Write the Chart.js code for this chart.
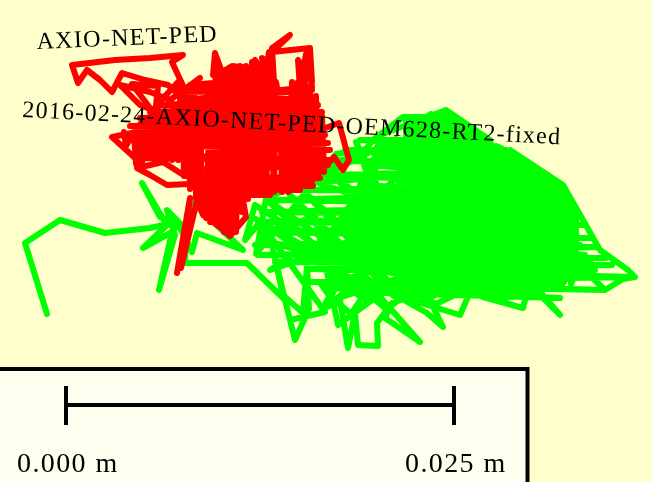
<!DOCTYPE html>
<html>
<head>
<meta charset="utf-8">
<title>AXIO-NET-PED</title>
<script src="https://cdn.jsdelivr.net/npm/chart.js@4/dist/chart.umd.min.js"></script>
<style>
html, body { margin: 0; padding: 0; background: #ffffcc; overflow: hidden; }
canvas { display: block; }
</style>
</head>
<body>
<canvas id="track-chart" width="652" height="482"></canvas>
<script>
// east / north offsets, 388 units = the 0.025 m scale bar, origin at bar start
var redTrack = [
    [111,131],[124,206],[115,136],[131,204],[137,189],[154,177],[164,168],[180,187],[177,204],[144,182],
    [134,209],[204,209],[129,216],[234,214],[124,222],[247,218],[119,228],[254,226],[101,219],[84,229],
    [71,236],[97,242],[119,228],[124,234],[262,239],[99,249],[264,244],[69,246],[46,267],[81,274],
    [264,254],[84,259],[262,261],[64,264],[259,269],[69,274],[259,276],[64,278],[254,284],[74,286],
    [256,292],[84,292],[252,299],[92,299],[250,306],[114,304],[246,314],[117,312],[206,316],[124,319],
    [204,326],[147,329],[149,351],[156,332],[166,338],[202,334],[187,342],[189,344],[206,319],[196,346],
    [200,330],[203,352],[208,322],[206,356],[209,358],[224,369],[206,352],
    [244,356],[246,322],[232,344],[234,316],[240,350],[238,318],[244,340],[246,316],[234,316],
    [119,304],[102,319],[79,324],[56,331],[46,312],[34,324],
    [21,334],[12,321],[6,339],[49,344],[84,346],[117,349],[106,342],[119,314],[134,326],[104,304],
    [84,312],[54,319],[74,299],[99,289],[84,296],[66,320],[92,318],[90,298],[112,322],[118,300],[99,289],
    [254,274],[273,281],[283,244],[277,234],[268,247],[258,236],
    [258,232],[256,288],[252,226],[250,308],[246,222],[244,318],[240,218],[238,340],[234,216],[232,322],
    [228,214],[226,322],[222,212],[220,300],[216,212],[214,300],[210,322],[208,212],[204,330],[200,210],
    [198,345],[194,209],[192,340],[188,209],[186,342],[182,205],[180,338],[176,192],[174,338],[170,172],
    [168,336],[164,170],[162,334],[158,172],[156,330],[152,178],[150,345],[146,182],[144,300],[140,186],
    [136,198],[134,300],[130,206],[128,320],[124,215],[122,316],[118,228],[116,308],[112,244],[110,296],
    [106,244],[104,288],[100,244],[98,288],[94,244],[92,294],[88,246],[86,290],[82,246],[80,284],
    [76,240],[74,280],[70,240],[68,272],[60,258],[58,272]
];
var greenTrack = [
    [-19,90],[-41,161],[-6,184],[39,171],[84,176],[102,180],[77,156],[106,172],[93,114],[109,169],
    [101,194],[116,179],[94,187],[76,221],[99,182],[114,176],[126,152],[131,171],[177,154],[124,204],
    [121,180],[119,141],[181,141],[219,104],[229,64],[243,95],[241,139],[237,91],[217,109],[207,154],[224,84],[259,92],
    [194,182],[179,164],[189,199],[334,104],[224,209],[354,62],[319,86],[326,101],[311,81],[312,58],
    [292,59],[289,91],[282,56],[274,104],[256,94],[294,164],[204,134],[234,154],[299,104],[374,154],
    [272,79],[249,189],[194,164],[354,124],[377,77],[361,91],[329,109],[394,89],[407,119],[284,144],
    [314,269],[380,294],[424,264],[294,264],[439,254],[279,254],[459,239],[264,244],[474,234],[254,229],
    [494,219],[234,214],[501,212],[209,204],[506,199],[196,192],[512,189],[192,182],[517,179],[194,172],
    [524,166],[189,159],[532,157],[192,149],[540,146],[209,142],[546,139],[245,135],[569,127],[245,122],
    [539,114],[264,119],[494,106],[284,112],[471,112],[494,89],[464,124],[457,96],[417,107],[454,134],
    [314,259],[444,249],[309,249],[464,234],[304,239],[482,224],[299,229],[489,209],[294,219],[494,199],
    [289,209],[499,189],[284,199],[504,179],[279,189],[509,169],[284,179],[514,159],[294,169],[519,149],
    [304,159],[524,142],[314,149],[529,134],[334,139],[494,124],[354,129],[464,119],[374,119],[407,116],
    [444,254],[497,219],[513,191],[534,154],[562,134],[569,127],[557,125],[539,114],[360,287],[337,287],[307,264],
    [300,255],[270,250],[190,150],[200,205],[300,255],[230,215],[330,265],[250,150],[345,240],[265,108],
    [300,225],[250,222],[340,190],[260,115],[340,118],[290,262],[350,140],[262,240],[340,120],[235,215],
    [330,115],[200,205],[300,110],[190,185],[270,140],[320,210],[300,150],[345,175],[280,120],[310,115],
    [325,160],[340,105],[340,118],[340,286],[345,287],[345,118],[350,120],[350,287],[355,287],[355,122],
    [360,125],[360,287],[365,290],[365,122],[370,118],[370,290],[375,292],[375,120],[380,122],[380,294],
    [385,288],[385,124],[390,122],[390,285],[395,280],[395,120],[400,122],[400,275],[405,270],[405,118],
    [410,120],[410,268],[415,266],[415,118],[420,122],[420,264],[425,260],[425,120],[430,118],[430,258],
    [435,256],[435,116],[440,118],[440,254],[445,250],[445,116],[450,118],[450,247],[455,243],[455,120],
    [460,118],[460,240],[465,238],[465,118],[470,116],[470,235],[475,232],[475,118],[480,116],[480,228],
    [485,225],[485,118],[490,120],[490,222],[495,219],[495,118],[500,125],[500,210],[505,200],[505,120],
    [510,130],[510,192],[470,120],[430,108],[395,112],[370,100],[345,112],[320,95],[300,112],[285,90],
    [262,110],[255,120],[300,130],[270,105],[330,125],[352,100],[405,128],[440,105]
];
var scaleBarEast = [0, 0, 0, 388, 388, 388];
var scaleBarNorth = [18, -21, -1, -1, 18, -21];
var seriesNames = ["AXIO-NET-PED", "2016-02-24-AXIO-NET-PED-OEM628-RT2-fixed"];
var scaleLabels = ["0.000 m", "0.025 m"];

function toPoints(list) {
    return list.map(function(p) { return { x: p[0], y: p[1] }; });
}

var overlayPlugin = {
    id: "overlay",
    beforeDatasetsDraw: function(chart) {
        var c = chart.ctx;
        var sx = chart.scales.x, sy = chart.scales.y;
        // legend panel, open on the left and bottom
        var left = sx.getPixelForValue(-72), right = sx.getPixelForValue(461.5);
        var top = sy.getPixelForValue(35), bottom = sy.getPixelForValue(-84);
        c.save();
        c.fillStyle = "#fffff0";
        c.fillRect(left, top, right - left, bottom - top);
        c.strokeStyle = "#000";
        c.lineWidth = 4;
        c.strokeRect(left, top, right - left, bottom - top);
        c.restore();
    },
    afterDatasetsDraw: function(chart) {
        var c = chart.ctx;
        var sx = chart.scales.x, sy = chart.scales.y;
        c.save();
        c.fillStyle = "#000";
        c.textBaseline = "alphabetic";
        c.font = "24px 'Liberation Serif'";
        c.letterSpacing = "1.3px";
        c.translate(sx.getPixelForValue(-29), sy.getPixelForValue(355));
        c.rotate(-2.5 * Math.PI / 180);
        c.fillText(seriesNames[0], 0, 0);
        c.restore();

        c.save();
        c.fillStyle = "#000";
        c.font = "24px 'Liberation Serif'";
        c.letterSpacing = "1.25px";
        c.translate(sx.getPixelForValue(-44), sy.getPixelForValue(287));
        c.rotate(2.9 * Math.PI / 180);
        c.fillText(seriesNames[1], 0, 0);
        c.restore();

        c.save();
        c.fillStyle = "#000";
        c.font = "28px 'Liberation Serif'";
        c.letterSpacing = "1.4px";
        c.fillText(scaleLabels[0], sx.getPixelForValue(-49), sy.getPixelForValue(-68));
        c.fillText(scaleLabels[1], sx.getPixelForValue(339), sy.getPixelForValue(-68));
        c.restore();
    }
};

var ctx = document.getElementById("track-chart").getContext("2d");
var myChart = new Chart(ctx, {
    type: "scatter",
    data: {
        datasets: [
            {
                label: seriesNames[0],
                data: toPoints(redTrack),
                showLine: true,
                borderColor: "#ff0000",
                backgroundColor: "#ff0000",
                borderWidth: 6,
                borderJoinStyle: "round",
                borderCapStyle: "round",
                pointRadius: 0,
                tension: 0,
            },
            {
                label: seriesNames[1],
                data: toPoints(greenTrack),
                showLine: true,
                borderColor: "#00ff00",
                backgroundColor: "#00ff00",
                borderWidth: 6,
                borderJoinStyle: "round",
                borderCapStyle: "round",
                pointRadius: 0,
                tension: 0,
            },
            {
                label: "scale",
                data: scaleBarEast.map(function(v, i) { return { x: v, y: scaleBarNorth[i] }; }),
                showLine: true,
                borderColor: "#000",
                borderWidth: 4,
                pointRadius: 0,
                tension: 0,
            },
        ],
    },
    options: {
        responsive: false,
        animation: false,
        layout: { padding: 0 },
        scales: {
            x: { type: "linear", display: false, min: -66, max: 586 },
            y: { type: "linear", display: false, min: -78, max: 404 },
        },
        plugins: {
            legend: { display: false },
            tooltip: { enabled: false },
        },
    },
    plugins: [overlayPlugin],
});
</script>
</body>
</html>
